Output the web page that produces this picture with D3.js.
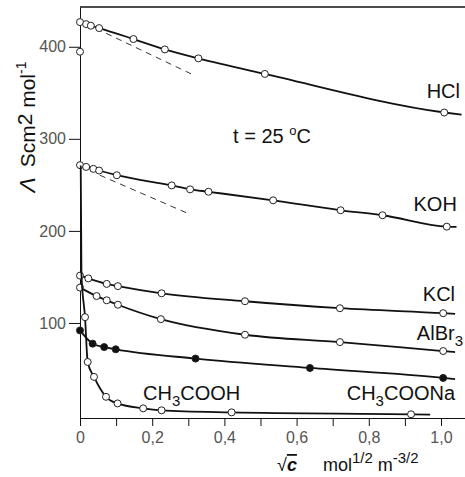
<!DOCTYPE html>
<html>
<head>
<meta charset="utf-8">
<script src="https://cdn.jsdelivr.net/npm/d3@7"></script>
<style>
  body { margin: 0; background: #fff; }
  svg { display: block; font-family: "Liberation Sans", Arial, sans-serif; }
  .axis text { font-size: 16px; fill: #555; }
  .axis path, .axis line { stroke: #111; }
  .lbl { font-size: 20px; fill: #111; }
  .curve { fill: none; stroke: #111; stroke-width: 1.8; }
  .limit { fill: none; stroke: #333; stroke-width: 1; stroke-dasharray: 6 5; }
</style>
</head>
<body>
<div class="chart-wrapper"></div>
<script>
// ticks
const xTicks = [0, 0.1, 0.2, 0.3, 0.4, 0.5, 0.6, 0.7, 0.8, 0.9, 1.0]
const xTickLabels = ["0", "", "0,2", "", "0,4", "", "0,6", "", "0,8", "", "1,0"]
const yTicks = [100, 200, 300, 400]

// sqrt(c) vs molar conductivity
const hclX = [0, 0.017, 0.030, 0.053, 0.148, 0.235, 0.328, 0.512, 1.009, 1.057]
const hclY = [426.8, 424.6, 422.9, 420.3, 408.4, 397.1, 387.4, 370.5, 328.6, 326.2]

const kohX = [0, 0.017, 0.037, 0.053, 0.102, 0.254, 0.305, 0.356, 0.535, 0.722, 0.838, 1.016, 1.043]
const kohY = [271.4, 269.5, 267.4, 265.6, 260.5, 249.4, 245.1, 242.5, 233.2, 222.4, 217.0, 204.6, 204.3]

const kclX = [0, 0.023, 0.074, 0.105, 0.226, 0.457, 0.720, 1.006, 1.039]
const kclY = [151.4, 148.4, 142.4, 140.0, 132.2, 123.6, 116.0, 110.6, 109.9]

const albr3X = [0, 0.046, 0.074, 0.105, 0.224, 0.457, 0.720, 1.006, 1.039]
const albr3Y = [138.4, 129.2, 124.6, 119.8, 104.1, 87.2, 79.2, 69.5, 68.4]

const naacX = [0, 0.035, 0.067, 0.099, 0.320, 0.637, 1.006, 1.039]
const naacY = [91.9, 77.5, 73.8, 71.4, 61.3, 51.1, 40.3, 38.9]

const acX = [0.002, 0.004, 0.0139, 0.0213, 0.0388, 0.072, 0.104, 0.175, 0.226, 0.420, 0.917, 0.970]
const acY = [271, 153, 106.3, 57.6, 41.4, 19.8, 12.6, 7.2, 5.1, 2.9, 0.8, 0.5]

// limiting value of CH3COOH at c -> 0
const acLimitX = [0]
const acLimitY = [394.6]

// Kohlrausch limiting slopes (dashed)
const hclSlopeX = [0.045, 0.314]
const hclSlopeY = [419.7, 369.4]
const kohSlopeX = [0.055, 0.296]
const kohSlopeY = [260.5, 219.5]

const zip = (xs, ys) => xs.map((v, i) => ({x: v, y: ys[i]}))

// bare = indices drawn as line only, without marker
const series = [
  {name: 'HCl', pts: zip(hclX, hclY), bare: [9], filled: false},
  {name: 'KOH', pts: zip(kohX, kohY), bare: [12], filled: false},
  {name: 'KCl', pts: zip(kclX, kclY), bare: [8], filled: false},
  {name: 'AlBr3', pts: zip(albr3X, albr3Y), bare: [8], filled: false},
  {name: 'CH3COONa', pts: zip(naacX, naacY), bare: [7], filled: true},
  {name: 'CH3COOH', pts: zip(acX, acY), bare: [0, 1, 11], filled: false}
]

const width = 465
const height = 477

let x = d3.scaleLinear().domain([0, 1.0665]).range([80, 465])
let y = d3.scaleLinear().domain([-3.24, 443.2]).range([418, 7])

let svg = d3.select(".chart-wrapper")
.append("svg")
.attr("width", width)
.attr("height", height)

let line = d3.line()
.x(d => x(d.x))
.y(d => y(d.y))
.curve(d3.curveMonotoneX)

// top border
svg.append("line")
.attr("x1", x.range()[0]).attr("x2", x.range()[1])
.attr("y1", y.range()[1]).attr("y2", y.range()[1])
.attr("stroke", "#111").attr("stroke-width", 1.5)

let xaxis = svg.append("g")
.attr("class", "x axis")
.attr("transform", "translate(0," + y.range()[0] + ")")
.call(d3.axisBottom(x)
  .tickValues(xTicks)
  .tickFormat((d, i) => xTickLabels[i])
  .tickSizeInner(8)
  .tickSizeOuter(0)
  .tickPadding(6))

let yaxis = svg.append("g")
.attr("class", "y axis")
.attr("transform", "translate(" + x.range()[0] + ",0)")
.call(d3.axisLeft(y)
  .tickValues(yTicks)
  .tickSizeInner(11)
  .tickSizeOuter(0)
  .tickPadding(3))

// dashed limiting slopes
;[zip(hclSlopeX, hclSlopeY), zip(kohSlopeX, kohSlopeY)].forEach(p => {
  svg.append("path").datum(p).attr("class", "limit").attr("d", d3.line().x(d => x(d.x)).y(d => y(d.y)))
})

series.forEach(s => {
  svg.append("path")
  .datum(s.pts)
  .attr("class", "curve")
  .attr("d", line)

  svg.append("g")
  .selectAll("circle")
  .data(s.pts.filter((d, i) => s.bare.indexOf(i) < 0))
  .join("circle")
  .attr("cx", d => x(d.x))
  .attr("cy", d => y(d.y))
  .attr("r", 3.5)
  .attr("fill", s.filled ? "#111" : "#fff")
  .attr("stroke", "#222")
  .attr("stroke-width", 1)
})

svg.append("g")
.selectAll("circle")
.data(zip(acLimitX, acLimitY))
.join("circle")
.attr("cx", d => x(d.x))
.attr("cy", d => y(d.y))
.attr("r", 3.5)
.attr("fill", "#fff")
.attr("stroke", "#222")

// series labels
function label(px, py, anchor, parts) {
  let t = svg.append("text")
  .attr("class", "lbl")
  .attr("x", x(px))
  .attr("y", y(py))
  .attr("text-anchor", anchor)
  parts.forEach(p => {
    let ts = t.append("tspan").text(p[0])
    if (p[1] === 'sub') ts.attr("font-size", 15).attr("dy", 6)
    if (p[1] === 'up') ts.attr("dy", -6)
    if (p[1] === 'sup') ts.attr("font-size", 13).attr("dy", -8)
    if (p[1] === 'back') ts.attr("dy", 8)
  })
  return t
}

label(1.0526, 344.6, "end", [["HCl"]])
label(1.044, 221.6, "end", [["KOH"]])
label(1.039, 124.3, "end", [["KCl"]])
label(1.061, 81.1, "end", [["AlBr"], ["3", "sub"]])
label(1.039, 16.2, "end", [["CH"], ["3", "sub"], ["COONa", "up"]])
label(0.1745, 16.2, "start", [["CH"], ["3", "sub"], ["COOH", "up"]])
label(0.424, 295.7, "start", [["t = 25 "], ["o", "sup"], ["C", "back"]])

// y axis title
let yt = svg.append("text")
.attr("transform", "translate(35,127) rotate(-90)")
.attr("text-anchor", "middle")
.attr("font-size", 21)
.attr("fill", "#111")
yt.append("tspan").text("Λ").attr("font-style", "italic").attr("font-size", 23)
yt.append("tspan").text(" Scm").attr("dx", 4)
yt.append("tspan").text("2").attr("dy", -3)
yt.append("tspan").text(" mol").attr("dy", 3)
yt.append("tspan").text("-1").attr("font-size", 14).attr("dy", -9)

// x axis title
let xt = svg.append("text")
.attr("x", 277)
.attr("y", 471)
.attr("font-size", 18)
.attr("fill", "#111")
xt.append("tspan").text("√")
xt.append("tspan").text("c").attr("font-weight", "bold").attr("font-style", "italic").attr("text-decoration", "overline")
xt.append("tspan").text("mol").attr("dx", 26)
xt.append("tspan").text("1/2").attr("font-size", 15).attr("dy", -8)
xt.append("tspan").text(" m").attr("dy", 8)
xt.append("tspan").text("-3/2").attr("font-size", 15).attr("dy", -8)
</script>
</body>
</html>
